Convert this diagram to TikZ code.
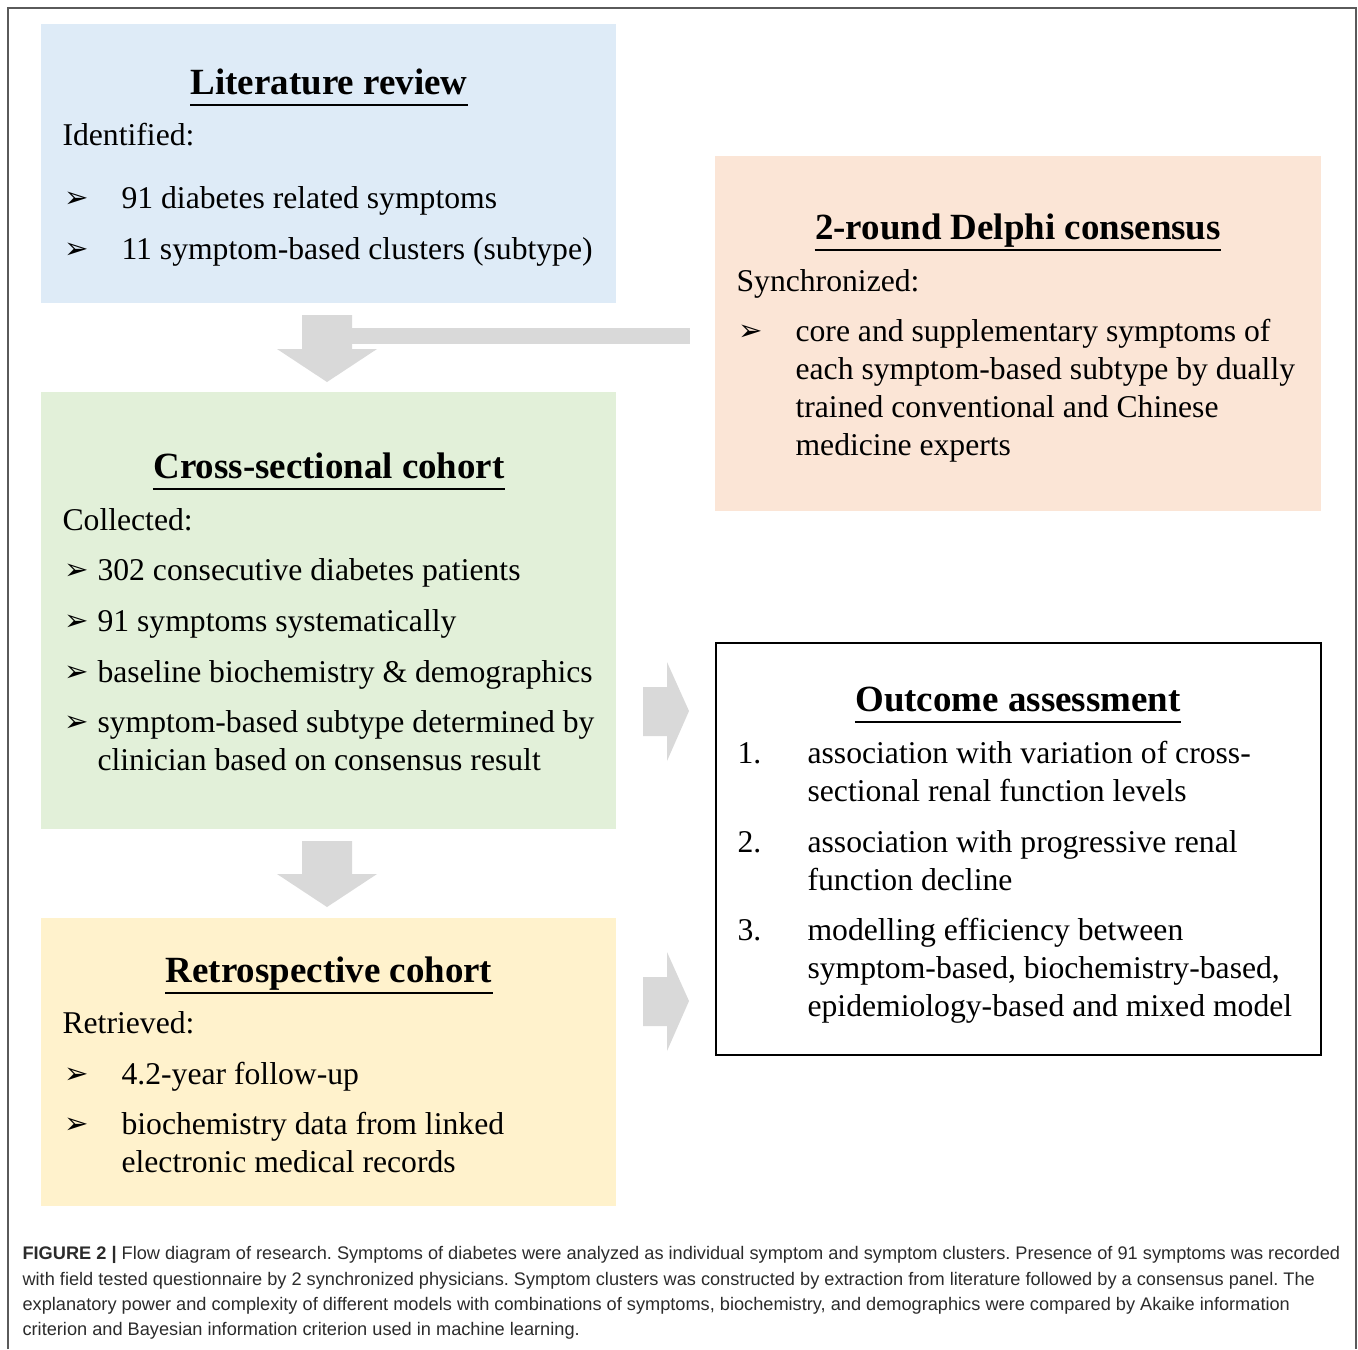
\documentclass[tikz,border=0pt]{standalone}
\usepackage{fontspec}
\setmainfont{Liberation Serif}
\newfontfamily\capfont{Liberation Sans}
\newfontfamily\symfont{DejaVu Sans}
\usetikzlibrary{positioning}
\frenchspacing

\definecolor{litblue}{HTML}{DEEBF7}
\definecolor{delpeach}{HTML}{FBE5D6}
\definecolor{crossgreen}{HTML}{E2F0D9}
\definecolor{retyellow}{HTML}{FFF2CC}
\definecolor{arrowgray}{HTML}{D9D9D9}
\definecolor{framegray}{HTML}{5A5A5A}
\definecolor{captext}{HTML}{2B2B2B}

\newcommand\unitpx{0.36pt}

\tikzset{
  box/.style={anchor=north west, inner sep=0, outer sep=0, draw=none},
  boxtitle/.style={anchor=base, inner sep=0, yshift=-0.7pt, font=\fontsize{13.3}{16}\selectfont\bfseries},
  txt/.style={anchor=base west, inner sep=0, yshift=-0.7pt, font=\fontsize{11.4}{13.7}\selectfont},
  bul/.style={anchor=base west, inner sep=0, yshift=-0.3pt, font=\symfont\fontsize{10.5}{12}\selectfont},
  captionline/.style={anchor=base west, inner sep=0, text=captext, font=\capfont\fontsize{6.55}{9}\selectfont},
  uline/.style={line width=0.7pt},
  blk/.style={fill=arrowgray, draw=none},
}

\begin{document}
\begin{tikzpicture}[x=\unitpx, y=-\unitpx]
\useasboundingbox (0,0) rectangle (1358,1349);

% frame round the figure
\draw[framegray, line width=0.6pt] (8,1349) -- (8,8) -- (1356,8) -- (1356,1349);

% boxes
\node[box, fill=litblue, minimum width=575*\unitpx, minimum height=279*\unitpx] (lit) at (41,24) {};
\node[box, fill=delpeach, minimum width=606*\unitpx, minimum height=355*\unitpx] (del) at (715,156) {};
\node[box, fill=crossgreen, minimum width=575*\unitpx, minimum height=437*\unitpx] (cross) at (41,392) {};
\node[box, fill=retyellow, minimum width=575*\unitpx, minimum height=288*\unitpx] (ret) at (41,918) {};
\node[box, draw=black, line width=0.9pt, minimum width=605*\unitpx, minimum height=412*\unitpx] (out) at (716,643) {};

% block arrows
\coordinate (d1) at (327,382);
\coordinate (d2) at (327,907);
\coordinate (r1) at (689,711);
\coordinate (r2) at (689,1001);
\fill[blk] (d1) -- ++(-50,-33) -- ++(25,0) -- ++(0,-34) -- ++(50,0) -- ++(0,34) -- ++(25,0) -- cycle;
\fill[blk] (352,328) rectangle (690,344);
\fill[blk] (d2) -- ++(-50,-33) -- ++(25,0) -- ++(0,-33) -- ++(50,0) -- ++(0,33) -- ++(25,0) -- cycle;
\foreach \tip in {r1,r2}
  \fill[blk] (\tip) -- ++(-22,-49) -- ++(0,25) -- ++(-24,0) -- ++(0,49) -- ++(24,0) -- ++(0,25) -- cycle;

% titles
\node[boxtitle] (littitle) at (329,93) {Literature review};
\node[boxtitle] (deltitle) at (1018,238) {2-round Delphi consensus};
\node[boxtitle] (crosstitle) at (329,477) {Cross-sectional cohort};
\node[boxtitle] (outtitle) at (1018,710) {Outcome assessment};
\node[boxtitle] (rettitle) at (329,981) {Retrospective cohort};
\foreach \t in {littitle,deltitle,crosstitle,outtitle,rettitle}
  \draw[uline] ([yshift=-3.5pt]\t.base west) -- ([yshift=-3.5pt]\t.base east);

% literature review
\node[txt] (lit0) at (62,144) {Identified:};
\node[bul] (litb1) at (64,207) {➢};
\node[txt] (lit1) at (121,207) {91 diabetes related symptoms};
\node[bul] (litb2) at (64,258) {➢};
\node[txt] (lit2) at (121,258) {11 symptom-based clusters (subtype)};

% delphi
\node[txt] (del0) at (736,290) {Synchronized:};
\node[bul] (delb1) at (738,340) {➢};
\node[txt] (del1) at (795,340) {core and supplementary symptoms of};
\node[txt] (del2) at (795,378) {each symptom-based subtype by dually};
\node[txt] (del3) at (795,416) {trained conventional and Chinese};
\node[txt] (del4) at (795,454) {medicine experts};

% cross-sectional
\node[txt] (cross0) at (62,529) {Collected:};
\node[bul] (crossb1) at (64,579) {➢};
\node[txt] (cross1) at (97,579) {302 consecutive diabetes patients};
\node[bul] (crossb2) at (64,630) {➢};
\node[txt] (cross2) at (97,630) {91 symptoms systematically};
\node[bul] (crossb3) at (64,681) {➢};
\node[txt] (cross3) at (97,681) {baseline biochemistry \& demographics};
\node[bul] (crossb4) at (64,731) {➢};
\node[txt] (cross4) at (97,731) {symptom-based subtype determined by};
\node[txt] (cross5) at (97,769) {clinician based on consensus result};

% outcome
\node[txt] (outn1) at (737,762) {1.};
\node[txt] (out1) at (807,762) {association with variation of cross-};
\node[txt] (out2) at (807,800) {sectional renal function levels};
\node[txt] (outn2) at (737,851) {2.};
\node[txt] (out3) at (807,851) {association with progressive renal};
\node[txt] (out4) at (807,889) {function decline};
\node[txt] (outn3) at (737,939) {3.};
\node[txt] (out5) at (807,939) {modelling efficiency between};
\node[txt] (out6) at (807,977) {symptom-based, biochemistry-based,};
\node[txt] (out7) at (807,1015) {epidemiology-based and mixed model};

% retrospective
\node[txt] (ret0) at (62,1032) {Retrieved:};
\node[bul] (retb1) at (64,1083) {➢};
\node[txt] (ret1) at (121,1083) {4.2-year follow-up};
\node[bul] (retb2) at (64,1133) {➢};
\node[txt] (ret2) at (121,1133) {biochemistry data from linked};
\node[txt] (ret3) at (121,1171) {electronic medical records};

% caption
\node[captionline] (cap1) at (22,1259) {\textbf{FIGURE 2 |} Flow diagram of research. Symptoms of diabetes were analyzed as individual symptom and symptom clusters. Presence of 91 symptoms was recorded};
\node[captionline] (cap2) at (22,1285) {with field tested questionnaire by 2 synchronized physicians. Symptom clusters was constructed by extraction from literature followed by a consensus panel. The};
\node[captionline] (cap3) at (22,1310) {explanatory power and complexity of different models with combinations of symptoms, biochemistry, and demographics were compared by Akaike information};
\node[captionline] (cap4) at (22,1335) {criterion and Bayesian information criterion used in machine learning.};
\end{tikzpicture}
\end{document}
